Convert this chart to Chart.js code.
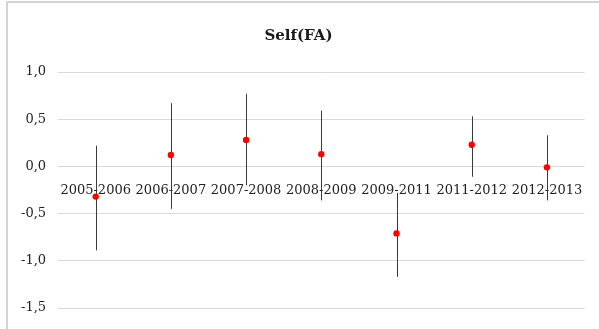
<!DOCTYPE html>
<html>
<head>
<meta charset="utf-8">
<script src="https://cdn.jsdelivr.net/npm/chart.js@4.4.1/dist/chart.umd.min.js"></script>
<style>
  html, body { margin: 0; padding: 0; background: #fff; }
  #wrap { width: 599px; height: 329px; position: relative; }
</style>
</head>
<body>
<div id="wrap"><canvas id="selfChart"></canvas></div>
<script>
  // Periods and Self(FA) estimates with their interval ends
  const periods = ['2005-2006', '2006-2007', '2007-2008', '2008-2009', '2009-2011', '2011-2012', '2012-2013'];
  const estimates = [-0.32, 0.12, 0.28, 0.13, -0.71, 0.23, -0.01];
  const lower = [-0.89, -0.45, -0.20, -0.36, -1.17, -0.11, -0.36];
  const upper = [0.22, 0.67, 0.77, 0.59, -0.28, 0.53, 0.33];
  const yTicks = [-1.5, -1.0, -0.5, 0.0, 0.5, 1.0];

  const serif = "'DejaVu Serif', 'Liberation Serif', serif";

  // vertical interval lines behind the points
  const errorBars = {
    id: 'errorBars',
    beforeDatasetsDraw(chart) {
      const ctx = chart.ctx;
      const x = chart.scales.x;
      const y = chart.scales.y;
      ctx.save();
      ctx.strokeStyle = '#3a3a3a';
      ctx.lineWidth = 1;
      periods.forEach((p, i) => {
        const px = Math.round(x.getPixelForValue(i)) + 0.5;
        ctx.beginPath();
        ctx.moveTo(px, y.getPixelForValue(upper[i]));
        ctx.lineTo(px, y.getPixelForValue(lower[i]));
        ctx.stroke();
      });
      ctx.restore();
    }
  };

  // thin frame on the left and top edges
  const frame = {
    id: 'frame',
    beforeDraw(chart) {
      const ctx = chart.ctx;
      ctx.save();
      ctx.fillStyle = '#fff';
      ctx.fillRect(0, 0, chart.width, chart.height);
      ctx.strokeStyle = '#d4d4d4';
      ctx.lineWidth = 2;
      ctx.beginPath();
      ctx.moveTo(7, chart.height);
      ctx.lineTo(7, 2);
      ctx.lineTo(chart.width, 2);
      ctx.stroke();
      ctx.restore();
    }
  };

  new Chart(document.getElementById('selfChart'), {
    type: 'line',
    data: {
      labels: periods,
      datasets: [{
        label: 'Self(FA)',
        data: estimates,
        showLine: false,
        pointRadius: 3.2,
        pointHoverRadius: 3.2,
        pointBackgroundColor: '#ff0000',
        pointBorderColor: '#ff0000',
        pointBorderWidth: 0,
      }],
    },
    options: {
      responsive: true,
      maintainAspectRatio: false,
      animation: false,
      layout: {
        padding: { left: 9, right: 11, top: 0, bottom: 21 },
      },
      plugins: {
        legend: { display: false },
        tooltip: { enabled: false },
        title: {
          display: true,
          text: 'Self(FA)',
          color: '#1a1a1a',
          font: { family: serif, size: 15, weight: 'bold' },
          padding: { top: 27, bottom: 27 },
        },
      },
      scales: {
        x: {
          type: 'category',
          position: { y: 0 },
          offset: true,
          grid: { display: false, drawTicks: false },
          border: { display: false },
          ticks: {
            color: '#222',
            font: { family: serif, size: 13 },
            padding: 16,
            maxRotation: 0,
            autoSkip: false,
          },
        },
        y: {
          min: -1.5,
          max: 1.0,
          afterBuildTicks(scale) {
            scale.ticks = yTicks.map(v => ({ value: v }));
          },
          grid: { color: '#d9d9d9', lineWidth: 1, drawTicks: false },
          border: { display: false },
          ticks: {
            color: '#222',
            font: { family: serif, size: 13 },
            padding: 12,
            callback: v => v.toFixed(1).replace('.', ','),
          },
        },
      },
    },
    plugins: [frame, errorBars],
  });
</script>
</body>
</html>
